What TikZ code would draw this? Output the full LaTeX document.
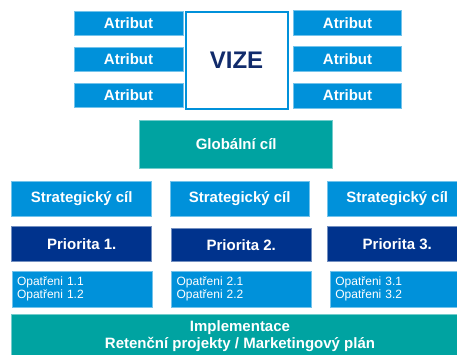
\documentclass[tikz,border=0pt]{standalone}
\usepackage{fontspec}
\setmainfont{Liberation Sans}
\definecolor{lblue}{HTML}{0091DA}
\definecolor{dblue}{HTML}{00338D}
\definecolor{teal2}{HTML}{00A3A1}
\definecolor{navy}{HTML}{112B6B}
\tikzset{
  box/.style={rectangle, inner sep=0pt, text=white, font=\fontsize{15}{17.5}\selectfont\bfseries, align=center},
  lbox/.style={box, fill=lblue, draw=lblue!55!white, line width=0.7pt},
  dbox/.style={box, fill=dblue, draw=dblue!55!white, line width=0.7pt},
  tbox/.style={box, fill=teal2, draw=teal2!55!white, line width=0.7pt},
  obox/.style={rectangle, fill=lblue, draw=lblue!55!white, line width=0.7pt, text=white, font=\fontsize{12}{13.3}\selectfont, align=left, inner xsep=5pt, inner ysep=0pt, anchor=west},
  vizebox/.style={rectangle, draw=lblue, line width=2pt, fill=white, text=navy, font=\fontsize{24}{28}\selectfont\bfseries}
}
\begin{document}
\begin{tikzpicture}[x=1pt,y=-1pt]
\useasboundingbox (0,0) rectangle (457,354);
\clip (0,0) rectangle (457,354);
% Atributs left
\node[lbox, minimum width=109pt, minimum height=24.5pt] (al1) at (128.5,23.5) {Atribut};
\node[lbox, minimum width=109pt, minimum height=24.5pt] (al2) at (128.5,59.4) {Atribut};
\node[lbox, minimum width=109pt, minimum height=24.5pt] (al3) at (128.5,95.4) {Atribut};
% Atributs right
\node[lbox, minimum width=108.4pt, minimum height=24.7pt] (ar1) at (347.5,22.7) {Atribut};
\node[lbox, minimum width=108.4pt, minimum height=24.7pt] (ar2) at (347.5,59) {Atribut};
\node[lbox, minimum width=108.4pt, minimum height=24.7pt] (ar3) at (347.5,95.5) {Atribut};
% Vize
\node[vizebox, minimum width=102pt, minimum height=97pt] (vize) at (236.5,60) {VIZE};
% Global goal
\node[tbox, minimum width=193pt, minimum height=48.3pt] (glob) at (236.2,144.2) {Globální cíl};
% Strategic goals
\node[lbox, minimum width=140pt, minimum height=35.7pt] (sc1) at (81.7,198.8) {Strategický cíl};
\node[lbox, minimum width=139.3pt, minimum height=35.7pt] (sc2) at (239.7,198.8) {Strategický cíl};
\node[lbox, minimum width=140pt, minimum height=35.7pt] (sc3) at (397.3,198.8) {Strategický cíl};
% Priorities
\node[dbox, minimum width=140pt, minimum height=34.3pt] (p1) at (81.7,243.8) {Priorita 1.};
\node[dbox, minimum width=139.7pt, minimum height=33.4pt] (p2) at (241.2,245) {Priorita 2.};
\node[dbox, minimum width=140pt, minimum height=34.3pt] (p3) at (397.3,243.8) {Priorita 3.};
% Measures
\node[obox, text width=130pt, minimum height=36pt] (o1) at (11.7,289) {Opatřeni 1.1\\Opatřeni 1.2};
\node[obox, text width=129.7pt, minimum height=36pt] (o2) at (171.3,289) {Opatřeni 2.1\\Opatřeni 2.2};
\node[obox, text width=130pt, minimum height=36pt] (o3) at (330,289) {Opatřeni 3.1\\Opatřeni 3.2};
% Implementation
\node[tbox, minimum width=456.6pt, minimum height=44pt] (impl) at (240,336) {Implementace\\Retenční projekty / Marketingový plán};
\end{tikzpicture}
\end{document}
